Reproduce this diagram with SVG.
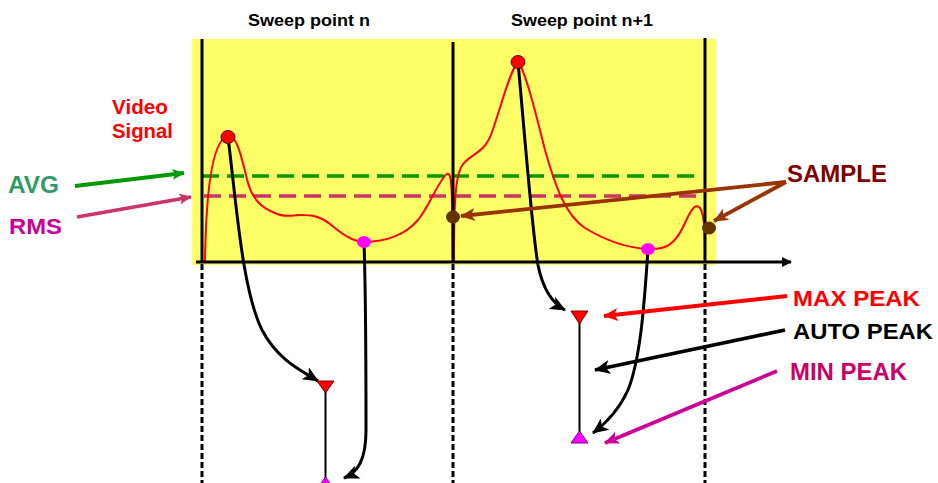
<svg xmlns="http://www.w3.org/2000/svg" width="938" height="483" viewBox="0 0 938 483">
<style>
text{font-family:"Liberation Sans",Arial,sans-serif;font-weight:bold}
.vl{stroke:#000;stroke-width:3;fill:none}
.dl{stroke:#000;stroke-width:3;stroke-dasharray:6 3;fill:none}
.sig{stroke:#ff0000;stroke-width:2;fill:none;stroke-linejoin:round}
.cur{stroke:#000;stroke-width:3;fill:none}
.ar{stroke-width:3.8;fill:none}
</style>
<defs>
<marker id="mk-black" markerUnits="userSpaceOnUse" viewBox="0 0 16 14" markerWidth="16" markerHeight="14" refX="15" refY="7" orient="auto"><path d="M0,0 L16,7 L0,14 L4,7 Z" fill="#000"/></marker>
<marker id="mk-green" markerUnits="userSpaceOnUse" viewBox="0 0 16 14" markerWidth="13" markerHeight="11" refX="15" refY="7" orient="auto"><path d="M0,0 L16,7 L0,14 L4,7 Z" fill="#009900"/></marker>
<marker id="mk-pink" markerUnits="userSpaceOnUse" viewBox="0 0 16 14" markerWidth="13" markerHeight="11" refX="15" refY="7" orient="auto"><path d="M0,0 L16,7 L0,14 L4,7 Z" fill="#cc3366"/></marker>
<marker id="mk-brown" markerUnits="userSpaceOnUse" viewBox="0 0 16 14" markerWidth="15" markerHeight="13" refX="15" refY="7" orient="auto"><path d="M0,0 L16,7 L0,14 L4,7 Z" fill="#993300"/></marker>
<marker id="mk-red" markerUnits="userSpaceOnUse" viewBox="0 0 16 14" markerWidth="15" markerHeight="13" refX="15" refY="7" orient="auto"><path d="M0,0 L16,7 L0,14 L4,7 Z" fill="#ff0000"/></marker>
<marker id="mk-mag" markerUnits="userSpaceOnUse" viewBox="0 0 16 14" markerWidth="15" markerHeight="13" refX="15" refY="7" orient="auto"><path d="M0,0 L16,7 L0,14 L4,7 Z" fill="#cc0099"/></marker>
<marker id="mk-axis" markerUnits="userSpaceOnUse" viewBox="0 0 10 10" markerWidth="10" markerHeight="10" refX="9" refY="5" orient="auto"><path d="M0,0 L10,5 L0,10 Z" fill="#000"/></marker>
</defs>

<g id="plot-area">
<rect x="192" y="39" width="524" height="226" fill="#ffff66"/>
</g>

<g id="levels">
<line x1="202" y1="176" x2="697" y2="176" stroke="#009900" stroke-width="3.5" stroke-dasharray="17 8"/>
<line x1="204" y1="196" x2="700" y2="196" stroke="#cc3366" stroke-width="3.5" stroke-dasharray="17 8"/>
</g>

<g id="signal">
<path class="sig" d="M205,262 C206,190 212,140 228,136 C238,134 243,165 248,183 C253,200 262,208 275,213 C285,218 292,215 300,215 C312,215 320,216 330,224 C340,232 352,242 364,242 C385,242 405,235 418,220 C430,205 440,178 447,174 C452,172 452,185 453,262"/>
<path class="sig" d="M454,262 C454,200 455,170 465,162 C475,152 485,152 492,132 C500,110 510,70 518,62 C525,70 535,110 545,150 C555,185 565,215 585,228 C605,240 625,248 648,249 C665,250 675,245 684,225 C690,212 695,202 700,208 C705,214 705,240 705,262"/>
</g>

<g id="grid">
<line class="vl" x1="202" y1="39" x2="202" y2="262"/>
<line class="vl" x1="453" y1="42" x2="453" y2="262"/>
<line class="vl" x1="705" y1="38" x2="705" y2="262"/>
<line class="dl" x1="202" y1="264" x2="202" y2="483"/>
<line class="dl" x1="453" y1="264" x2="453" y2="483"/>
<line class="dl" x1="705" y1="264" x2="705" y2="483"/>
<line x1="196" y1="262" x2="791" y2="262" stroke="#000" stroke-width="3" marker-end="url(#mk-axis)"/>
</g>

<g id="connectors">
<path class="cur" d="M228,137 C236,200 242,290 262,330 C278,360 300,370 318,381" marker-end="url(#mk-black)"/>
<path class="cur" d="M364,242 C366,300 366,380 366,430 C366,460 358,472 344,478" marker-end="url(#mk-black)"/>
<path class="cur" d="M518,62 C526,150 532,230 538,265 C543,290 552,303 565,310" marker-end="url(#mk-black)"/>
<path class="cur" d="M648,249 C644,310 640,360 628,390 C618,412 605,424 593,433" marker-end="url(#mk-black)"/>
<line class="ar" x1="75" y1="186" x2="184" y2="173" stroke="#009900" marker-end="url(#mk-green)"/>
<line class="ar" x1="77" y1="217" x2="191" y2="197" stroke="#cc3366" marker-end="url(#mk-pink)"/>
<line class="ar" x1="786" y1="182" x2="461" y2="216" stroke="#993300" marker-end="url(#mk-brown)"/>
<line class="ar" x1="786" y1="182" x2="714" y2="221" stroke="#993300" marker-end="url(#mk-brown)"/>
<line class="ar" x1="787" y1="296" x2="604" y2="316" stroke="#ff0000" marker-end="url(#mk-red)"/>
<line class="ar" x1="785" y1="330" x2="595" y2="370" stroke="#000" marker-end="url(#mk-black)"/>
<line class="ar" x1="777" y1="371" x2="605" y2="443" stroke="#cc0099" marker-end="url(#mk-mag)"/>
</g>

<g id="points">
<ellipse cx="228" cy="137" rx="7" ry="6.5" fill="#ff0000" stroke="#660000" stroke-width="1"/>
<ellipse cx="364" cy="242" rx="7" ry="6" fill="#ff00ff"/>
<ellipse cx="453" cy="217" rx="7" ry="6.5" fill="#663300"/>
<ellipse cx="518" cy="62" rx="7" ry="6.5" fill="#ff0000" stroke="#660000" stroke-width="1"/>
<ellipse cx="648" cy="249" rx="7" ry="6" fill="#ff00ff"/>
<ellipse cx="709" cy="228" rx="7" ry="6.5" fill="#663300"/>
</g>

<g id="detector-n">
<line x1="325.5" y1="392" x2="325.5" y2="478" stroke="#000" stroke-width="2"/>
<polygon points="317,381 334,381 325.5,393" fill="#ff0000" stroke="#800000" stroke-width="1"/>
<polygon points="325.5,477 334,489 317,489" fill="#ff00ff" stroke="#800080" stroke-width="1"/>
</g>

<g id="detector-n1">
<line x1="579.5" y1="323" x2="579.5" y2="433" stroke="#000" stroke-width="2"/>
<polygon points="571,311 588,311 579.5,324" fill="#ff0000" stroke="#800000" stroke-width="1"/>
<polygon points="579.5,431 588,443 571,443" fill="#ff00ff" stroke="#800080" stroke-width="1"/>
</g>

<g id="labels">
<text x="248" y="26" font-size="16.5" textLength="122" lengthAdjust="spacingAndGlyphs" fill="#000">Sweep point n</text>
<text x="511" y="26" font-size="16.5" textLength="142" lengthAdjust="spacingAndGlyphs" fill="#000">Sweep point n+1</text>
<text x="112" y="114" font-size="19.5" textLength="56" lengthAdjust="spacingAndGlyphs" fill="#ff0000">Video</text>
<text x="112" y="138" font-size="19.5" textLength="61" lengthAdjust="spacingAndGlyphs" fill="#ff0000">Signal</text>
<text x="8" y="193" font-size="23" textLength="51" lengthAdjust="spacingAndGlyphs" fill="#339966">AVG</text>
<text x="9" y="234" font-size="22.5" textLength="53" lengthAdjust="spacingAndGlyphs" fill="#cc0099">RMS</text>
<text x="787" y="182" font-size="23" textLength="100" lengthAdjust="spacingAndGlyphs" fill="#800000">SAMPLE</text>
<text x="793" y="306" font-size="22.5" textLength="127" lengthAdjust="spacingAndGlyphs" fill="#ff0000">MAX PEAK</text>
<text x="793" y="339" font-size="22.5" textLength="140" lengthAdjust="spacingAndGlyphs" fill="#000">AUTO PEAK</text>
<text x="790" y="380" font-size="23" textLength="117" lengthAdjust="spacingAndGlyphs" fill="#cc0066">MIN PEAK</text>
</g>
</svg>
